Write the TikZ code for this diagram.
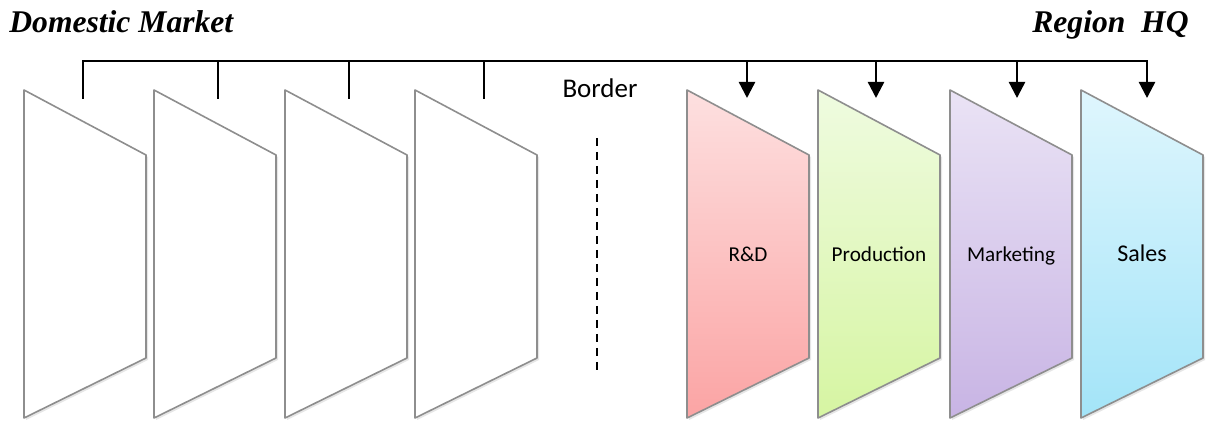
\documentclass[tikz,border=0pt]{standalone}
\usepackage{fontspec}
\setmainfont{Liberation Serif}
\newfontfamily\labelfont{Carlito}
\usetikzlibrary{arrows.meta,shadows}

\definecolor{rdtop}{HTML}{FDE0E0}
\definecolor{rdbot}{HTML}{FBA4A4}
\definecolor{prodtop}{HTML}{EFFBE0}
\definecolor{prodbot}{HTML}{D6F5A2}
\definecolor{mkttop}{HTML}{EAE3F5}
\definecolor{mktbot}{HTML}{C8B4E4}
\definecolor{salestop}{HTML}{DFF6FD}
\definecolor{salesbot}{HTML}{A3E4F8}
\definecolor{edgegray}{HTML}{8E8E8E}

\begin{document}
\begin{tikzpicture}[x=0.5pt, y=-0.5pt,
    panel/.style={draw=edgegray, line width=0.8pt, line join=round,
      drop shadow={shadow xshift=1pt, shadow yshift=-1pt, opacity=0.2}},
    bus/.style={line width=1.2pt},
    tip/.style={-{Triangle[width=8pt,length=8pt]}},
    title/.style={font=\fontsize{15.8}{18}\selectfont\bfseries\itshape, inner sep=0pt},
    lbl/.style={font=\labelfont\fontsize{10.6}{13}\selectfont, inner sep=0pt, anchor=base}]
    \useasboundingbox (0,0) rectangle (1208,421);

    % Titles
    \node[title, anchor=base west] (dom) at (9,33) {Domestic Market};
    \node[title, anchor=base east] (hq) at (1189,33) {Region~~HQ};

    % Domestic units (blank)
    \draw[panel, fill=white] (24,90) -- (146,155) -- (146,358) -- (24,418) -- cycle;
    \draw[panel, fill=white] (154,90) -- (276,155) -- (276,358) -- (154,418) -- cycle;
    \draw[panel, fill=white] (285,90) -- (407,155) -- (407,358) -- (285,418) -- cycle;
    \draw[panel, fill=white] (415,90) -- (537,155) -- (537,358) -- (415,418) -- cycle;

    % Regional units
    \draw[panel, top color=rdtop, bottom color=rdbot] (687,90) -- (809,155) -- (809,358) -- (687,418) -- cycle;
    \node[lbl] (rd) at (748,262) {R\&D};
    \draw[panel, top color=prodtop, bottom color=prodbot] (818,90) -- (940,155) -- (940,358) -- (818,418) -- cycle;
    \node[lbl] (prod) at (879,262) {Production};
    \draw[panel, top color=mkttop, bottom color=mktbot] (950,90) -- (1072,155) -- (1072,358) -- (950,418) -- cycle;
    \node[lbl] (mkt) at (1011,262) {Marketing};
    \draw[panel, top color=salestop, bottom color=salesbot] (1081,90) -- (1203,155) -- (1203,358) -- (1081,418) -- cycle;
    \node[lbl, font=\labelfont\fontsize{12}{14}\selectfont] (sales) at (1142,262) {Sales};

    % Border line
    \node[lbl, font=\labelfont\fontsize{13.5}{16}\selectfont] (border) at (600,98) {Border};
    \coordinate (divtop) at (597,138);
    \coordinate (divbot) at (597,370);
    \draw[line width=1pt, dash pattern=on 4pt off 3pt] (divtop) -- (divbot);

    % Bracket: domestic feeds the region
    \coordinate (busL) at (83,61);
    \coordinate (busR) at (1147,61);
    \coordinate (t1) at (83,99);
    \coordinate (t2) at (218,99);
    \coordinate (t3) at (349,99);
    \coordinate (t4) at (484,99);
    \coordinate (a1) at (747,98);
    \coordinate (a2) at (876,98);
    \coordinate (a3) at (1017,98);
    \coordinate (a4) at (1147,98);
    \draw[bus, tip] (t1) -- (busL) -- (busR) -- (a4);
    \draw[bus] (t2 |- busL) -- (t2);
    \draw[bus] (t3 |- busL) -- (t3);
    \draw[bus] (t4 |- busL) -- (t4);
    \draw[bus, tip] (a1 |- busL) -- (a1);
    \draw[bus, tip] (a2 |- busL) -- (a2);
    \draw[bus, tip] (a3 |- busL) -- (a3);
\end{tikzpicture}
\end{document}
